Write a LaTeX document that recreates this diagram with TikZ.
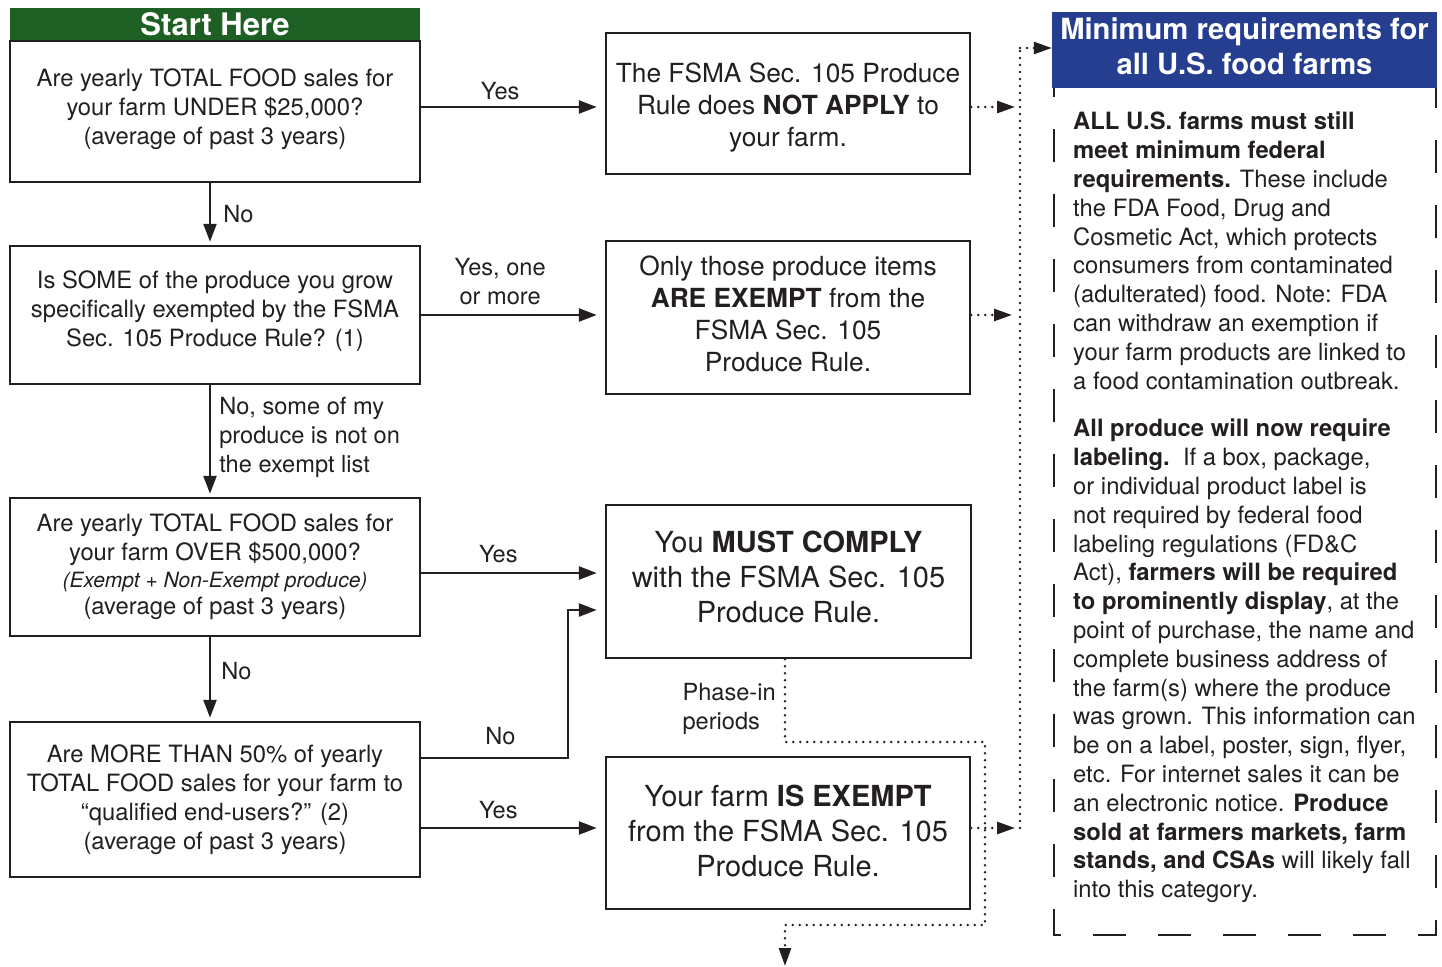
\documentclass[tikz,border=0pt]{standalone}
\usepackage{fontspec}
\setmainfont{TeX Gyre Heros}
\usetikzlibrary{arrows.meta}
\definecolor{ink}{RGB}{35,31,32}
\definecolor{startgreen}{RGB}{30,96,36}
\definecolor{headblue}{RGB}{37,62,143}
\begin{document}
\begin{tikzpicture}[
  x=1pt, y=-1pt,
  every node/.style={text=ink},
  qbox/.style={draw=ink, line width=2.5pt, align=center, inner sep=0pt, minimum width=410pt, font=\fontsize{23.8}{29}\selectfont},
  abox/.style={draw=ink, line width=2.5pt, align=center, inner sep=0pt, minimum width=364pt, font=\fontsize{26.3}{32}\selectfont},
  bigbox/.style={abox, font=\fontsize{29}{35}\selectfont},
  head/.style={align=center, inner sep=0pt, text=white, font=\bfseries\fontsize{29.2}{35}\selectfont},
  lbl/.style={inner sep=0pt, font=\fontsize{23.6}{29}\selectfont},
  arrow/.style={draw=ink, line width=2.5pt, -{Triangle[length=18pt,width=13pt]}},
  dotarrow/.style={draw=ink, line width=2.6pt, line cap=round, dash pattern=on 0pt off 7pt, -{Triangle[length=18pt,width=12pt]}},
  dotline/.style={draw=ink, line width=2.6pt, line cap=round, dash pattern=on 0pt off 7pt}
]
\useasboundingbox (0,0) rectangle (1442,966);
% left column: questions
\node[head, fill=startgreen, minimum width=410pt, minimum height=33pt, font=\bfseries\fontsize{31}{35}\selectfont] (start) at (215,24.5) {Start Here};
\node[qbox, minimum height=141pt] (q1) at (215,111.5) {Are yearly TOTAL FOOD sales for\\your farm UNDER \$25,000?\\(average of past 3 years)\rule[-10pt]{0pt}{0pt}};
\node[qbox, minimum height=138pt] (q2) at (215,315) {Is SOME of the produce you grow\\specifically exempted by the FSMA\\Sec. 105 Produce Rule? (1)\rule[-13pt]{0pt}{0pt}};
\node[qbox, minimum height=138pt] (q3) at (215,567) {Are yearly TOTAL FOOD sales for\\your farm OVER \$500,000?\\[-2pt]{\fontsize{21}{27}\selectfont\itshape (Exempt + Non-Exempt produce)}\\[-2pt](average of past 3 years)};
\node[qbox, minimum height=155pt] (q4) at (215,799.5) {Are MORE THAN 50\% of yearly\\TOTAL FOOD sales for your farm to\\“qualified end-users?” (2)\\(average of past 3 years)};
% middle column: answers
\node[abox, minimum height=141pt] (r1) at (788,103.5) {\rule{0pt}{27pt}The FSMA Sec. 105 Produce\\Rule does \textbf{NOT APPLY} to\\your farm.};
\node[abox, minimum height=153pt] (r2) at (788,317.5) {Only those produce items\\\textbf{ARE EXEMPT} from the\\FSMA Sec. 105\\Produce Rule.\rule[-8pt]{0pt}{0pt}};
\node[bigbox, minimum width=365pt, minimum height=153pt] (r3) at (788.5,581.5) {You \textbf{MUST COMPLY}\\with the FSMA Sec. 105\\Produce Rule.\rule[-10pt]{0pt}{0pt}};
\node[bigbox, minimum height=152pt] (r4) at (788,833) {Your farm \textbf{IS EXEMPT}\\from the FSMA Sec. 105\\Produce Rule.\rule[-4pt]{0pt}{0pt}};
% right column: minimum requirements
\node[head, fill=headblue, minimum width=385pt, minimum height=76pt] (minhead) at (1244.5,50) {Minimum requirements for\\all U.S. food farms\rule[-8pt]{0pt}{0pt}};
\node[inner sep=0pt, anchor=north west, align=left, font=\fontsize{23.8}{28.8}\selectfont] (minreq) at (1073,112) {%
\textbf{ALL U.S. farms must still}\\
\textbf{meet minimum federal}\\
\textbf{requirements.} These include\\
the FDA Food, Drug and\\
Cosmetic Act, which protects\\
consumers from contaminated\\
(adulterated) food. Note: FDA\\
can withdraw an exemption if\\
your farm products are linked to\\
a food contamination outbreak.\\[19pt]
\textbf{All produce will now require}\\
\textbf{labeling.}\ \ If a box, package,\\
or individual product label is\\
not required by federal food\\
labeling regulations (FD\&C\\
Act), \textbf{farmers will be required}\\
\textbf{to prominently display}, at the\\
point of purchase, the name and\\
complete business address of\\
the farm(s) where the produce\\
was grown. This information can\\
be on a label, poster, sign, flyer,\\
etc. For internet sales it can be\\
an electronic notice. \textbf{Produce}\\
\textbf{sold at farmers markets, farm}\\
\textbf{stands, and CSAs} will likely fall\\
into this category.};
\coordinate (panelTL) at (1054,88);
\coordinate (panelBL) at (1054,935);
\coordinate (panelBR) at (1436,935);
\coordinate (panelTR) at (1436,88);
\draw[ink, line width=2.5pt, dash pattern=on 33pt off 32pt, dash phase=24pt]
  (panelTL) -- (panelBL) -- (panelBR) -- (panelTR);
% helper coordinates
\coordinate (spine) at (210,0);
\coordinate (lvlA) at (0,107);
\coordinate (lvlC) at (0,573);
\coordinate (lvlE) at (0,828);
\coordinate (noLow) at (568,758);
\coordinate (noHigh) at (568,610);
\coordinate (busTop) at (1020,48);
\coordinate (busBot) at (1020,828);
\coordinate (phaseA) at (785,742);
\coordinate (phaseB) at (985,742);
\coordinate (phaseC) at (985,925);
\coordinate (phaseD) at (785,925);
\coordinate (phaseEnd) at (785,966);
% solid connectors
\draw[arrow, shorten >=8pt] (q1.east |- lvlA) -- node[lbl, above=6pt, pos=.43] {Yes} (r1.west |- lvlA);
\draw[arrow, shorten >=3pt] (q1.south -| spine) -- node[lbl, right=12pt] {No} (q2.north -| spine);
\draw[arrow, shorten >=8pt] (q2.east) -- node[lbl, above=9pt, pos=.43, align=center] {Yes, one\\or more} (r2.west |- q2.east);
\draw[arrow, shorten >=3pt] (q2.south -| spine) -- node[lbl, right=8pt, pos=.47, align=left] {No, some of my\\produce is not on\\the exempt list} (q3.north -| spine);
\draw[arrow, shorten >=8pt] (q3.east |- lvlC) -- node[lbl, above=9pt, pos=.42] {Yes} (r3.west |- lvlC);
\draw[arrow, shorten >=3pt] (q3.south -| spine) -- node[lbl, right=10pt, pos=.4] {No} (q4.north -| spine);
\draw[arrow, shorten >=8pt] (q4.east |- noLow) -- node[lbl, above=12pt, pos=.54] {No} (noLow) -- (noHigh) -- (r3.west |- noHigh);
\draw[arrow, shorten >=8pt] (q4.east |- lvlE) -- node[lbl, above=8pt, pos=.42] {Yes} (r4.west |- lvlE);
% dotted connectors
\draw[dotarrow, shorten >=5pt] (r1.east |- lvlA) -- (busTop |- lvlA);
\draw[dotarrow, shorten >=8pt] (r2.east |- q2.east) -- (busTop |- q2.east);
\draw[dotarrow, shorten >=5pt] (r4.east |- busBot) -- (busBot);
\draw[dotline] (busBot) -- (busTop);
\draw[dotarrow] (busTop) -- (minhead.west |- busTop);
\draw[dotarrow] (r3.south -| phaseA) -- node[lbl, left=8pt, pos=.6, align=left] {Phase-in\\periods} (phaseA) -- (phaseB) -- (phaseC) -- (phaseD) -- (phaseEnd);
\end{tikzpicture}
\end{document}
